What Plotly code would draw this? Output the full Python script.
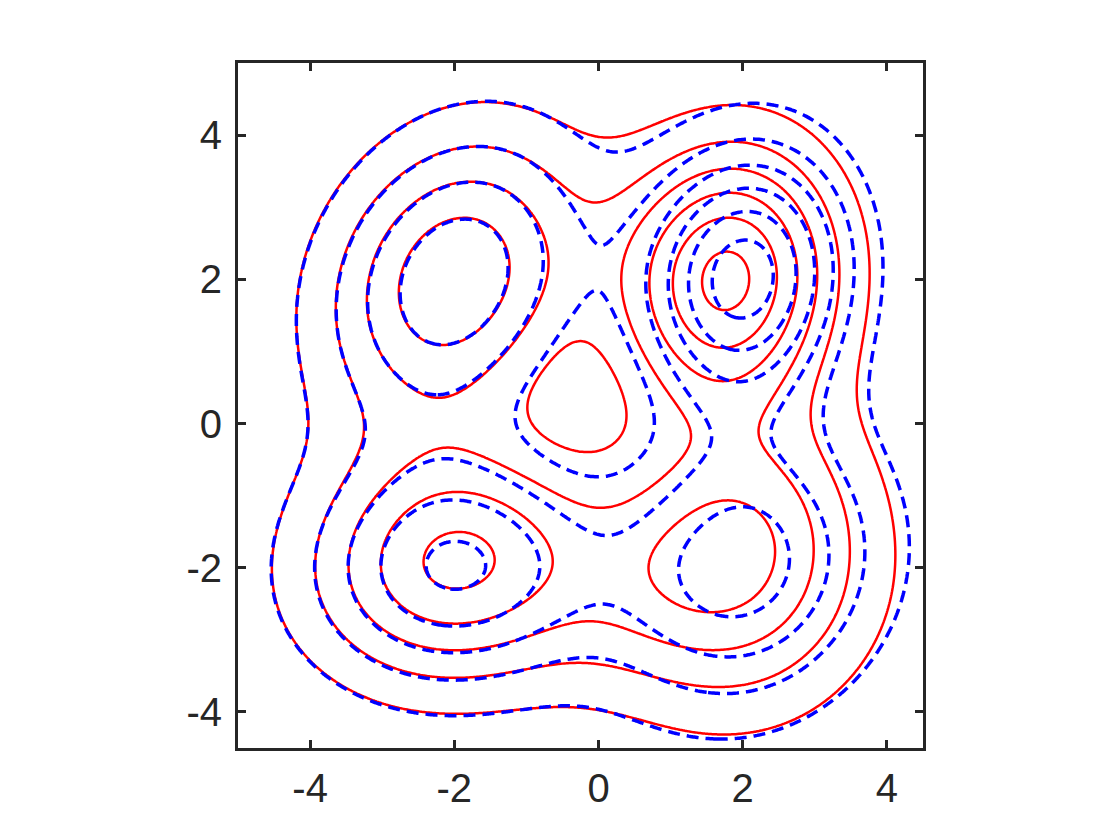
import numpy as np
import plotly.graph_objects as go

# contour levels (equally spaced)
levels = [1, 2, 3, 4, 5, 6]
tick_vals = [-4, -2, 0, 2, 4]
tick_text = ["-4", "-2", "0", "2", "4"]

# red (solid) density: Gaussian components
# centre x, centre y, sigma x, sigma y, correlation, peak height
red_cx = [-2.02, 1.78, -2.00, 1.85, 1.45]
red_cy = [2.01, 2.02, -1.94, -1.97, -1.91]
red_sx = [1.22, 1.03, 1.39, 1.36, 1.31]
red_sy = [1.38, 1.25, 1.14, 1.41, 1.09]
red_rho = [0.20, 0.06, 0.06, 0.02, 0.62]
red_peak = [4.81, 6.19, 5.13, 3.91, 0.60]

# blue (dashed) density
blue_cx = [-2.008, 2.010, -2.016, 1.996]
blue_cy = [1.996, 2.043, -2.005, -1.983]
blue_sx = [1.229, 0.995, 1.389, 1.338]
blue_sy = [1.397, 1.238, 1.127, 1.379]
blue_rho = [0.207, 0.083, 0.035, 0.107]
blue_peak = [4.787, 6.470, 5.085, 4.453]


def mixture(cxs, cys, sxs, sys_, rhos, peaks, X, Y):
    f = np.zeros_like(X, dtype=float)
    for cx, cy, sx, sy, r, p in zip(cxs, cys, sxs, sys_, rhos, peaks):
        dx = (X - cx) / sx
        dy = (Y - cy) / sy
        q = (dx * dx - 2 * r * dx * dy + dy * dy) / (1 - r * r)
        f = f + p * np.exp(-0.5 * q)
    return f


xg = np.linspace(-5, 4.5, 381)
yg = np.linspace(-4.5, 5, 381)
XX, YY = np.meshgrid(xg, yg)
Z_red = mixture(red_cx, red_cy, red_sx, red_sy, red_rho, red_peak, XX, YY)
Z_blue = mixture(blue_cx, blue_cy, blue_sx, blue_sy, blue_rho, blue_peak, XX, YY)

step = levels[1] - levels[0]
fig = go.Figure()
fig.add_trace(go.Contour(
    x=xg, y=yg, z=Z_red,
    contours=dict(coloring="lines", start=levels[0], end=levels[-1], size=step),
    colorscale=[[0, "#FF0000"], [1, "#FF0000"]], showscale=False,
    line=dict(width=2.5), hoverinfo="skip",
))
fig.add_trace(go.Contour(
    x=xg, y=yg, z=Z_blue,
    contours=dict(coloring="lines", start=levels[0], end=levels[-1], size=step),
    colorscale=[[0, "#0000FF"], [1, "#0000FF"]], showscale=False,
    line=dict(width=3.5, dash="12px,7px"), hoverinfo="skip",
))

axis_common = dict(
    showline=True, linecolor="#262626", linewidth=3, mirror="ticks",
    ticks="inside", ticklen=8, tickwidth=3, tickcolor="#262626",
    showgrid=False, zeroline=False, automargin=False,
    tickfont=dict(family="Liberation Sans", size=40, color="#262626"),
    tickvals=tick_vals, ticktext=tick_text,
)
fig.update_xaxes(range=[-5, 4.5], ticklabelstandoff=3, **axis_common)
fig.update_yaxes(range=[-4.5, 5], ticklabelstandoff=5, **axis_common)
fig.update_layout(
    width=1120, height=840, showlegend=False,
    margin=dict(l=230, r=205, t=55, b=100),
    paper_bgcolor="white", plot_bgcolor="white",
)
fig.write_html("out.html")
